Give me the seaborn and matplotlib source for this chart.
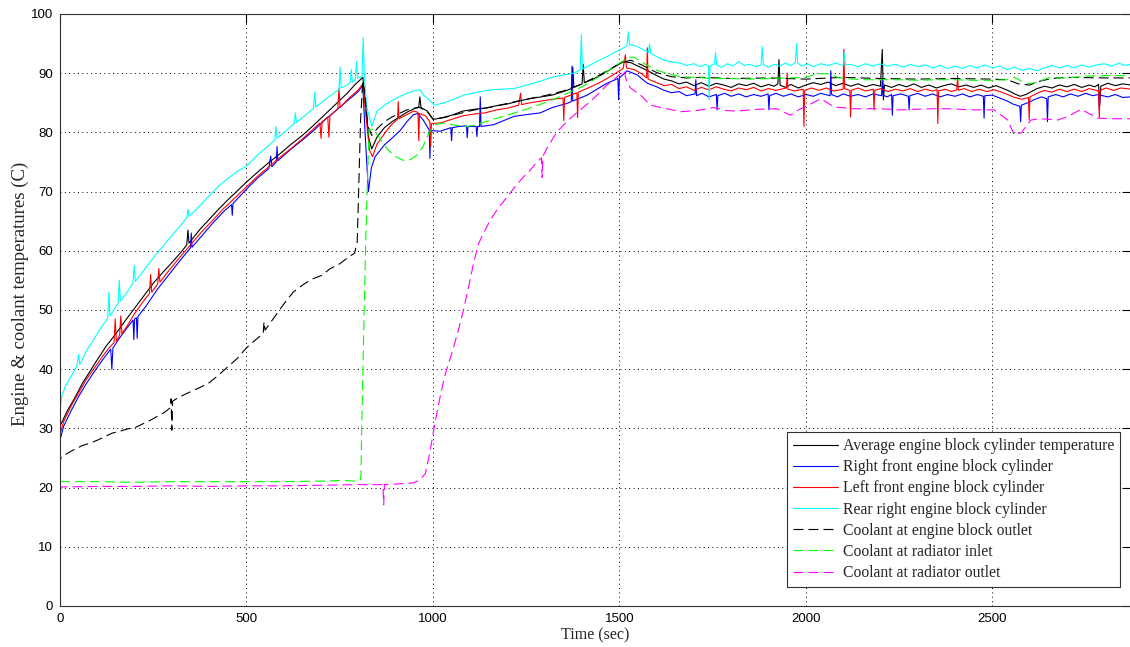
import matplotlib
matplotlib.use("Agg")
import matplotlib.pyplot as plt
import seaborn as sns

# ---------------- data: time (sec) and temperature (C) for each sensor ----------------
t_avg = [0, 20, 40, 60, 80, 100, 125, 150, 175, 200, 225, 250, 275, 300, 325, 340, 343, 346,
         375, 400, 425, 450, 475, 500, 530, 560, 590, 620, 650, 680, 710, 740, 770, 790, 800,
         812, 820, 828, 836, 850, 870, 890, 910, 930, 950, 962, 965, 968, 985, 1000, 1020,
         1050, 1080, 1110, 1140, 1170, 1200, 1230, 1260, 1290, 1320, 1350, 1372, 1375, 1378,
         1400, 1403, 1406, 1430, 1460, 1490, 1510, 1530, 1550, 1570,
         1600, 1620, 1640, 1660, 1680, 1700, 1720, 1740, 1760, 1780, 1800, 1820, 1840, 1860,
         1880, 1900, 1915, 1925, 1928, 1931, 1945, 1960, 1980, 2000, 2020, 2040, 2060, 2080,
         2100, 2120, 2140, 2160, 2180, 2200, 2205, 2208, 2211, 2230, 2250, 2270, 2290, 2310,
         2330, 2350, 2370, 2390, 2410, 2430, 2450, 2470, 2490, 2510, 2530, 2545, 2560, 2575,
         2590, 2605, 2620, 2640, 2660, 2680, 2700, 2720, 2740, 2760, 2775, 2785, 2788, 2791,
         2810, 2830, 2850, 2872]
v_avg = [30.4, 33.0, 35.2, 37.6, 39.6, 41.6, 44.0, 46.0, 48.2, 50.3, 52.4, 54.5, 56.3, 58.0,
         59.8, 61.0, 63.5, 61.3, 63.6, 65.3, 67.0, 68.6, 70.1, 71.6, 73.3, 74.9, 76.4, 78.0,
         79.5, 81.2, 83.0, 84.8, 86.6, 88.0, 88.6, 89.3, 84.5, 79.0, 77.2, 79.2, 80.8, 81.8,
         82.6, 83.4, 84.0, 84.3, 86.0, 84.2, 83.6, 82.2, 82.4, 82.9, 83.6, 83.9, 84.1, 84.5,
         84.8, 85.3, 85.7, 86.0, 86.3, 86.9, 87.4, 91.0, 87.6, 88.2, 91.5, 88.4, 89.0, 90.0,
         91.2, 91.9, 91.8, 91.2, 90.6,
         89.6, 89.0, 88.7, 88.2, 88.5, 87.9, 88.4, 87.8, 88.3, 88.0, 87.6, 88.2, 87.9, 88.3,
         87.7, 88.1, 87.8, 88.2, 92.3, 88.0, 87.6, 88.1, 87.5, 88.0, 88.4, 88.1, 88.5, 87.9,
         88.3, 87.8, 88.2, 87.7, 88.1, 87.8, 94.0, 85.5, 88.0, 87.6, 88.1, 87.7, 88.2, 87.6,
         88.0, 87.5, 87.9, 88.2, 87.7, 88.0, 87.6, 88.0, 87.5, 87.9, 87.4, 87.0, 86.5, 86.1,
         86.4, 86.9, 87.4, 87.8, 87.5, 88.0, 87.7, 88.1, 87.6, 88.0, 87.7, 88.1, 84.5, 87.8,
         88.3, 87.9, 88.2, 88.0]

t_rf = [0, 10, 30, 50, 70, 90, 110, 136, 139, 142, 160, 180, 196, 198, 200, 205, 207, 209,
        230, 260, 290, 320, 350, 352, 354, 380, 410, 440, 460, 462, 464, 500, 530, 560, 565,
        568, 580, 582, 584, 620, 650, 680, 710, 740, 770, 800, 812, 818, 827, 835, 845, 870,
        890, 912, 930, 948, 960, 975, 990, 992, 994, 1020, 1048, 1050, 1052, 1070, 1090, 1092,
        1094, 1116, 1118, 1120, 1125, 1127, 1129, 1163, 1190, 1217, 1250, 1288, 1320, 1360,
        1371, 1373, 1375, 1414, 1440, 1467, 1496, 1498, 1500, 1521, 1548, 1575,
        1600, 1620, 1640, 1660, 1680, 1703, 1705, 1707, 1722, 1740, 1760, 1762, 1764, 1782,
        1800, 1820, 1840, 1860, 1880, 1899, 1901, 1903, 1920, 1940, 1960, 1980, 2000, 2020,
        2040, 2065, 2067, 2069, 2085, 2100, 2120, 2140, 2160, 2180, 2203, 2205, 2207, 2218,
        2230, 2232, 2234, 2255, 2275, 2277, 2279, 2300, 2320, 2340, 2360, 2380, 2400, 2420,
        2440, 2460, 2476, 2478, 2480, 2500, 2520, 2540, 2555, 2574, 2576, 2578, 2595, 2615,
        2632, 2646, 2648, 2650, 2670, 2690, 2710, 2730, 2750, 2770, 2785, 2787, 2789, 2810,
        2830, 2850, 2872]
v_rf = [28.0, 30.4, 33.0, 35.4, 37.5, 39.4, 41.2, 43.4, 40.0, 43.6, 45.3, 47.0, 48.3, 45.0,
        48.5, 48.7, 45.2, 48.9, 50.6, 53.4, 55.8, 58.2, 60.5, 63.0, 60.6, 62.5, 64.7, 66.7,
        67.8, 66.0, 68.0, 70.4, 72.3, 73.9, 76.0, 74.2, 75.0, 77.6, 75.2, 77.2, 78.7, 80.3,
        82.1, 83.7, 85.3, 86.9, 88.0, 80.0, 70.0, 74.0, 75.9, 77.9, 79.0, 80.3, 81.8, 83.0,
        83.2, 82.0, 80.4, 75.6, 80.3, 80.2, 80.8, 78.6, 80.8, 81.0, 81.1, 79.1, 81.0, 81.0,
        79.3, 81.0, 81.0, 86.0, 81.0, 81.3, 82.0, 82.7, 83.0, 83.3, 84.2, 84.9, 85.2, 91.2,
        85.3, 86.3, 87.3, 88.3, 89.1, 85.5, 89.2, 90.4, 89.7, 88.3,
        87.7, 87.1, 86.7, 86.9, 86.2, 86.5, 88.9, 86.2, 86.6, 86.0, 86.4, 83.8, 86.2, 86.6,
        86.1, 86.5, 86.0, 86.4, 86.1, 86.5, 83.8, 86.2, 86.6, 86.1, 86.5, 86.0, 86.4, 86.1,
        86.6, 86.2, 90.4, 86.4, 86.0, 86.5, 86.1, 86.4, 86.0, 86.5, 86.2, 89.0, 86.3, 86.0,
        86.4, 82.9, 86.2, 86.5, 86.1, 83.8, 86.2, 86.6, 86.1, 86.5, 86.0, 86.4, 86.1, 86.5,
        86.0, 86.4, 86.1, 82.4, 86.2, 86.3, 85.8, 85.3, 84.8, 84.4, 81.8, 84.6, 85.0, 85.6,
        86.0, 85.7, 81.8, 86.0, 86.4, 86.0, 86.5, 86.1, 86.6, 86.2, 86.4, 84.0, 86.3, 86.0,
        86.4, 85.9, 86.0]

t_lf = [0, 10, 30, 50, 70, 90, 110, 130, 145, 148, 151, 160, 163, 166, 180, 200, 225, 240,
        243, 246, 262, 265, 268, 290, 320, 350, 380, 410, 440, 470, 500, 530, 560, 590, 620,
        650, 680, 697, 700, 703, 718, 721, 724, 745, 748, 751, 775, 800, 812, 820, 830, 838,
        850, 870, 890, 905, 907, 909, 930, 948, 960, 962, 964, 980, 992, 994, 996, 1020, 1050,
        1080, 1110, 1140, 1170, 1200, 1230, 1235, 1238, 1260, 1290, 1320, 1349, 1351, 1353,
        1386, 1388, 1390, 1420, 1450, 1480, 1510, 1516, 1519, 1540, 1560, 1573, 1575, 1577,
        1600, 1620, 1640, 1660, 1680, 1700, 1720, 1740, 1760, 1780, 1800, 1820, 1840, 1860,
        1880, 1900, 1920, 1948, 1950, 1952, 1970, 1993, 1995, 1997, 2015, 2035, 2055, 2075,
        2100, 2102, 2104, 2118, 2120, 2122, 2140, 2160, 2181, 2183, 2185, 2200, 2220, 2240,
        2260, 2280, 2300, 2320, 2340, 2352, 2354, 2356, 2375, 2390, 2405, 2407, 2409, 2425,
        2445, 2465, 2485, 2505, 2525, 2545, 2560, 2580, 2597, 2599, 2601, 2620, 2640, 2660,
        2680, 2700, 2720, 2740, 2760, 2785, 2787, 2789, 2805, 2825, 2845, 2872]
v_lf = [29.0, 31.2, 33.8, 36.0, 38.2, 40.0, 41.8, 43.5, 44.5, 48.5, 44.7, 45.8, 49.0, 46.0,
        47.3, 49.4, 51.6, 52.8, 56.0, 53.0, 54.4, 57.0, 54.7, 56.5, 58.8, 61.0, 63.2, 65.2,
        67.2, 69.0, 70.8, 72.6, 74.2, 75.8, 77.3, 78.9, 80.6, 81.6, 79.0, 81.8, 82.6, 79.2,
        82.8, 84.0, 87.5, 84.2, 85.8, 87.2, 88.2, 83.0, 77.0, 75.9, 78.0, 79.8, 81.4, 82.2,
        85.2, 82.3, 83.0, 83.6, 83.4, 78.6, 83.2, 82.8, 81.8, 77.6, 81.5, 81.6, 82.2, 82.8,
        83.1, 83.3, 83.8, 84.1, 84.6, 86.6, 84.7, 85.0, 85.3, 85.6, 85.8, 82.0, 85.9, 86.7,
        82.5, 86.8, 87.6, 88.5, 89.6, 90.8, 93.1, 90.9, 90.6, 89.9, 89.2, 94.3, 89.0,
        88.4, 87.9, 88.1, 87.4, 87.7, 87.1, 87.6, 87.2, 87.7, 87.3, 87.0, 87.5, 87.2, 87.6,
        87.0, 87.4, 87.1, 87.5, 90.0, 87.3, 87.0, 87.3, 81.0, 87.1, 87.5, 87.1, 87.5, 87.0,
        87.3, 94.0, 87.4, 87.1, 82.6, 87.1, 87.5, 87.0, 87.3, 83.8, 87.1, 87.4, 86.9, 87.3,
        87.0, 87.4, 86.9, 87.3, 87.0, 87.2, 81.5, 87.0, 87.3, 86.9, 87.2, 89.6, 87.1, 87.4,
        86.9, 87.3, 86.9, 87.2, 86.8, 86.3, 85.9, 85.6, 85.9, 82.1, 86.0, 86.6, 87.1, 86.8,
        87.3, 86.9, 87.3, 86.9, 87.4, 87.0, 82.5, 87.1, 87.5, 87.1, 87.5, 87.3]

t_rr = [0, 5, 15, 30, 45, 50, 53, 70, 90, 110, 128, 131, 134, 150, 156, 159, 162, 180, 196,
        199, 202, 225, 250, 275, 300, 325, 340, 343, 346, 375, 400, 425, 450, 475, 500, 530,
        560, 576, 579, 582, 610, 628, 631, 634, 660, 680, 683, 686, 710, 740, 748, 751, 754,
        770, 778, 781, 784, 792, 795, 798, 810, 813, 816, 822, 836, 850, 870, 890, 910, 930,
        950, 965, 975, 990, 1004, 1030, 1060, 1083, 1120, 1154, 1185, 1217, 1245, 1270, 1300,
        1324, 1350, 1378, 1395, 1398, 1401, 1414, 1440, 1467, 1490, 1503, 1520, 1524, 1527,
        1545, 1570, 1578, 1581, 1584,
        1600, 1619, 1640, 1664, 1680, 1700, 1718, 1730, 1739, 1741, 1743, 1755, 1758, 1761,
        1775, 1790, 1805, 1820, 1835, 1850, 1865, 1880, 1883, 1886, 1900, 1915, 1930, 1945,
        1960, 1972, 1975, 1978, 1990, 2005, 2020, 2040, 2060, 2080, 2100, 2103, 2106, 2120,
        2140, 2160, 2180, 2200, 2220, 2240, 2260, 2280, 2300, 2320, 2340, 2360, 2380, 2400,
        2420, 2440, 2460, 2480, 2500, 2520, 2540, 2560, 2580, 2600, 2620, 2640, 2660, 2680,
        2700, 2720, 2740, 2760, 2780, 2800, 2820, 2840, 2855, 2872]
v_rr = [33.0, 35.5, 37.2, 38.8, 40.5, 42.5, 40.8, 43.0, 45.0, 47.0, 48.6, 53.0, 49.0, 50.6,
        51.2, 55.0, 51.5, 53.0, 54.6, 57.5, 54.8, 56.7, 58.8, 60.7, 62.6, 64.4, 65.6, 67.0,
        65.8, 67.6, 69.3, 70.9, 72.2, 73.4, 74.3, 76.2, 77.8, 78.7, 81.0, 79.0, 80.5, 81.5,
        83.3, 81.7, 83.0, 84.1, 86.8, 84.3, 85.5, 86.9, 87.2, 91.0, 87.5, 88.0, 88.4, 90.6,
        88.5, 88.9, 92.0, 89.2, 89.5, 96.0, 90.0, 84.5, 81.0, 83.6, 84.6, 85.4, 86.0, 86.6,
        87.0, 87.2, 86.3, 85.5, 84.6, 85.0, 85.7, 86.3, 86.8, 87.2, 87.3, 87.4, 87.9, 88.3,
        88.9, 89.4, 89.7, 90.0, 90.5, 96.5, 90.7, 91.1, 92.0, 92.8, 93.6, 94.0, 94.6, 97.0,
        94.8, 94.6, 93.8, 93.5, 95.0, 93.4,
        92.8, 92.2, 91.9, 91.7, 91.3, 91.6, 91.1, 91.5, 91.2, 85.5, 91.2, 91.5, 93.5, 91.4,
        91.0, 91.6, 91.2, 92.0, 91.3, 91.5, 91.1, 91.4, 94.5, 91.5, 91.0, 91.5, 91.2, 91.7,
        91.3, 91.8, 95.0, 91.7, 91.2, 91.6, 91.1, 91.6, 91.3, 91.7, 91.3, 93.5, 91.4, 91.5,
        91.1, 91.6, 91.2, 91.6, 91.2, 91.5, 91.0, 91.5, 91.1, 91.4, 90.9, 91.3, 90.8, 91.2,
        90.8, 91.3, 90.9, 91.4, 90.9, 91.2, 90.6, 91.0, 90.5, 90.8, 90.4, 90.9, 91.3, 90.9,
        91.3, 90.9, 91.4, 91.0, 91.4, 91.6, 91.2, 91.7, 91.3, 91.5]

t_eng_out = [0, 2, 20, 40, 60, 80, 100, 120, 140, 160, 180, 200, 220, 240, 260, 280, 296,
             298, 300, 302, 320, 350, 375, 400, 425, 450, 475, 500, 525, 545, 547, 550, 575,
             600, 625, 650, 675, 700, 725, 750, 775, 790, 797, 801, 806, 812, 818, 826, 836,
             850, 870, 890, 910, 930, 950, 965, 985, 1000, 1030, 1060, 1090, 1120, 1150, 1200,
             1250, 1300, 1350, 1400, 1450, 1500, 1530, 1560, 1600, 1640, 1680, 1720, 1800,
             1900, 2000, 2100, 2200, 2300, 2400, 2500, 2540, 2570, 2600, 2630, 2660, 2700,
             2800, 2872]
v_eng_out = [23.5, 25.0, 25.8, 26.5, 27.1, 27.5, 28.0, 28.6, 29.2, 29.5, 29.9, 30.1, 30.7,
             31.3, 32.0, 32.7, 33.5, 35.0, 29.7, 34.6, 35.3, 36.2, 36.9, 37.7, 39.0, 40.4,
             41.8, 43.6, 45.0, 46.0, 48.0, 46.6, 48.8, 51.0, 53.0, 54.2, 55.2, 55.8, 57.0,
             57.8, 59.0, 59.6, 61.5, 70.5, 82.0, 88.8, 86.0, 81.0, 79.5, 80.6, 81.8, 82.6,
             83.2, 83.8, 84.1, 84.2, 83.5, 82.3, 82.5, 83.0, 83.5, 83.9, 84.2, 84.9, 85.6,
             86.2, 87.0, 88.2, 89.8, 91.6, 92.2, 91.4, 90.1, 89.4, 89.2, 89.3, 89.1, 89.2,
             89.0, 89.3, 89.1, 89.0, 89.1, 89.0, 88.9, 88.2, 88.0, 88.7, 89.1, 89.3, 89.2,
             89.2]

t_rad_in = [0, 100, 200, 300, 400, 500, 600, 700, 760, 790, 805, 807, 809, 814, 820, 826,
            829, 840, 860, 880, 900, 920, 940, 960, 975, 990, 1005, 1030, 1060, 1090, 1110,
            1150, 1200, 1250, 1300, 1350, 1400, 1450, 1500, 1525, 1540, 1570, 1601, 1630,
            1664, 1700, 1753, 1800, 1850, 1900, 1950, 2000, 2030, 2060, 2090, 2150, 2200,
            2250, 2300, 2350, 2400, 2450, 2500, 2540, 2560, 2580, 2600, 2620, 2650, 2700,
            2750, 2800, 2872]
v_rad_in = [21.0, 21.0, 20.9, 21.0, 21.0, 21.0, 21.0, 21.1, 21.2, 21.1, 21.3, 22.0, 30.0,
            45.0, 62.0, 75.0, 80.5, 80.5, 78.8, 77.0, 75.9, 75.3, 75.4, 76.3, 77.8, 80.0,
            81.3, 81.6, 81.2, 81.0, 81.2, 82.0, 82.9, 83.9, 85.0, 86.3, 87.7, 89.6, 91.7,
            92.7, 92.7, 91.5, 90.5, 89.9, 89.4, 89.3, 89.1, 89.1, 89.0, 89.1, 89.2, 89.3,
            89.9, 89.9, 89.2, 88.9, 88.9, 88.9, 88.8, 88.9, 88.9, 88.8, 88.8, 88.9, 89.3,
            88.6, 88.2, 88.5, 89.2, 89.2, 89.5, 89.6, 89.6]

t_rad_out = [0, 3, 100, 200, 300, 400, 500, 600, 700, 800, 866, 868, 870, 900, 948, 965, 980,
             992, 1002, 1015, 1029, 1042, 1056, 1070, 1082, 1096, 1109, 1123, 1140, 1154,
             1175, 1199, 1220, 1243, 1262, 1279, 1291, 1293, 1295, 1310, 1333, 1350, 1369,
             1395, 1422, 1445, 1467, 1494, 1512, 1521, 1530, 1557, 1583, 1619, 1664, 1709,
             1754, 1785, 1815, 1869, 1923, 1945, 1959, 1980, 2004, 2040, 2076, 2130, 2201,
             2250, 2291, 2340, 2380, 2452, 2505, 2541, 2559, 2577, 2604, 2631, 2676, 2703,
             2738, 2783, 2828, 2872]
v_rad_out = [19.5, 20.1, 20.2, 20.2, 20.3, 20.2, 20.3, 20.3, 20.4, 20.5, 20.5, 17.1, 20.5,
             20.6, 20.8, 21.3, 22.4, 26.0, 29.7, 34.0, 38.2, 41.0, 43.8, 47.0, 50.0, 54.0,
             57.9, 61.3, 63.5, 65.2, 67.2, 69.1, 70.8, 72.5, 73.7, 75.0, 75.7, 72.4, 76.0,
             77.8, 80.1, 81.2, 82.4, 83.8, 85.2, 86.6, 88.0, 89.4, 90.5, 88.3, 87.5, 86.3,
             84.6, 84.1, 83.5, 83.7, 84.2, 83.7, 83.6, 83.9, 84.0, 83.3, 82.9, 83.8, 84.5,
             85.7, 84.3, 84.0, 84.0, 83.8, 83.9, 84.0, 84.0, 83.8, 83.8, 82.1, 79.6, 79.9,
             82.1, 82.3, 82.1, 82.7, 83.9, 82.4, 82.3, 82.3]

x_ticks = [0, 500, 1000, 1500, 2000, 2500]
y_ticks = [0, 10, 20, 30, 40, 50, 60, 70, 80, 90, 100]

series = [
    (t_avg, v_avg, "Average engine block cylinder temperature", "#000000", "-"),
    (t_rf, v_rf, "Right front engine block cylinder", "#0000ff", "-"),
    (t_lf, v_lf, "Left front engine block cylinder", "#ff0000", "-"),
    (t_rr, v_rr, "Rear right engine block cylinder", "#00ffff", "-"),
    (t_eng_out, v_eng_out, "Coolant at engine block outlet", "#000000", "--"),
    (t_rad_in, v_rad_in, "Coolant at radiator inlet", "#00ff00", "--"),
    (t_rad_out, v_rad_out, "Coolant at radiator outlet", "#ff00ff", "--"),
]

# ---------------- figure ----------------
sns.set_style("white")
plt.rcParams["font.family"] = ["Liberation Serif", "DejaVu Serif"]

fig = plt.figure(figsize=(11.30, 6.47), dpi=100)
ax = fig.add_axes([60 / 1130, 41 / 647, 1071 / 1130, 592 / 647])

for t, v, name, col, ls in series:
    dash = (0, (9, 4.5)) if ls == "--" else "-"
    sns.lineplot(x=t, y=v, ax=ax, color=col, linewidth=0.8, linestyle=dash,
                 label=name, estimator=None, sort=False)

ax.set_xlim(0, 2872)
ax.set_ylim(0, 100)
ax.set_xticks(x_ticks)
ax.set_yticks(y_ticks)
for lab in ax.get_xticklabels() + ax.get_yticklabels():
    lab.set_fontfamily(["Liberation Sans", "DejaVu Sans"])
    lab.set_fontsize(9.5)
ax.tick_params(direction="in", length=6.5, width=0.8, top=True, right=True,
               colors="black", pad=5)
ax.grid(True, color="black", linestyle=(0, (1, 3.5)), linewidth=0.7)
for sp in ax.spines.values():
    sp.set_color("#333333")
    sp.set_linewidth(0.8)

ax.set_xlabel("Time (sec)", fontsize=11.5, labelpad=2)
ax.set_ylabel("Engine & coolant temperatures (C)", fontsize=13.5)
ax.yaxis.set_label_coords(-0.029, 0.528)

leg = ax.legend(loc="lower right", bbox_to_anchor=(0.99, 0.032), borderaxespad=0,
                frameon=True, fancybox=False, framealpha=1, edgecolor="#333333",
                fontsize=11.3, handlelength=2.9, handletextpad=0.3, labelspacing=0.33,
                borderpad=0.38)
leg.get_frame().set_linewidth(0.8)

fig.savefig("out.png", dpi=100, facecolor="white")
